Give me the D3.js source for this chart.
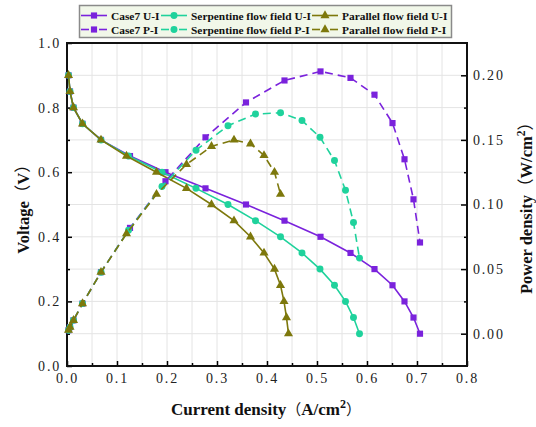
<!DOCTYPE html>
<html><head><meta charset="utf-8">
<script src="https://cdn.jsdelivr.net/npm/d3@7"></script>
<style>
html,body{margin:0;padding:0;background:#fff;}
svg{display:block;}
</style></head>
<body><svg id="chart" width="536" height="427"></svg>
<script>
// Operating points: cell voltage (V) for each polarization sample
const voltage = [0.90, 0.85, 0.80, 0.75, 0.70, 0.65, 0.60, 0.55, 0.50, 0.45, 0.40, 0.35, 0.30, 0.25, 0.20, 0.15, 0.10];

// Current density (A/cm2) at each voltage
const currentCase7 = [0.003, 0.006, 0.013, 0.031, 0.068, 0.126, 0.197, 0.277, 0.358, 0.435, 0.507, 0.567, 0.615, 0.651, 0.675, 0.693, 0.706];
const currentSerpentine = [0.003, 0.006, 0.013, 0.031, 0.068, 0.123, 0.190, 0.258, 0.322, 0.377, 0.427, 0.470, 0.506, 0.535, 0.557, 0.573, 0.585];
const currentParallel = [0.003, 0.006, 0.013, 0.031, 0.068, 0.119, 0.179, 0.239, 0.289, 0.334, 0.367, 0.394, 0.415, 0.427, 0.434, 0.439, 0.443];

// Power density (W/cm2)
const powerCase7 = [0.0027, 0.0051, 0.0104, 0.0233, 0.0476, 0.0819, 0.118, 0.152, 0.179, 0.196, 0.203, 0.198, 0.185, 0.163, 0.135, 0.104, 0.0706];
const powerSerpentine = [0.0027, 0.0051, 0.0104, 0.0233, 0.0476, 0.080, 0.114, 0.142, 0.161, 0.170, 0.171, 0.165, 0.152, 0.134, 0.111, 0.086, 0.0585];
const powerParallel = [0.0027, 0.0051, 0.0104, 0.0233, 0.0476, 0.0774, 0.108, 0.131, 0.145, 0.150, 0.147, 0.138, 0.125, 0.108];

// Axis ticks
const xTicks = [0, 0.1, 0.2, 0.3, 0.4, 0.5, 0.6, 0.7, 0.8];
const vTicks = [0, 0.2, 0.4, 0.6, 0.8, 1.0];
const pTicks = [0, 0.05, 0.10, 0.15, 0.20];

const legendLabels = [
  "Case7 U-I", "Serpentine flow field U-I", "Parallel flow field U-I",
  "Case7 P-I", "Serpentine flow field P-I", "Parallel flow field P-I"
];

const svg = d3.select("#chart");
const serif = "'Liberation Serif', 'Times New Roman', serif";

const x = d3.scaleLinear().domain([0, 0.8]).range([67, 467]);
const yV = d3.scaleLinear().domain([0, 1.0]).range([366, 43]);
const yP = d3.scaleLinear().domain([-0.025, 0.225]).range([366, 43]);

// grid
const grid = svg.append("g").attr("stroke", "#e4e4e4").attr("stroke-width", 1);
grid.selectAll("line.gx").data(d3.range(1, 16).map(i => i * 0.05)).join("line")
  .attr("x1", d => x(d)).attr("x2", d => x(d)).attr("y1", 43).attr("y2", 366);
grid.selectAll("line.gy").data(d3.range(1, 10).map(i => i * 0.1)).join("line")
  .attr("y1", d => yV(d)).attr("y2", d => yV(d)).attr("x1", 67).attr("x2", 467);

// axes
function styleAxis(g) {
  g.select(".domain").remove();
  g.selectAll(".tick line").attr("stroke", "#000").attr("stroke-width", 1.5);
  g.selectAll(".tick text").attr("font-family", serif).attr("font-size", 14)
    .attr("letter-spacing", "1.8px").attr("fill", "#222");
}
const fmt1 = d3.format(".1f"), fmt2 = d3.format(".2f");

svg.append("g").attr("transform", "translate(0,366)")
  .call(d3.axisBottom(x).tickValues(d3.range(0, 17).map(i => i * 0.05).filter((d, i) => i % 2)).tickSize(-3).tickFormat(""))
  .call(styleAxis);
svg.append("g").attr("transform", "translate(0,366)")
  .call(d3.axisBottom(x).tickValues(xTicks).tickSize(-5).tickPadding(7).tickFormat(fmt1))
  .call(styleAxis);

svg.append("g").attr("transform", "translate(67,0)")
  .call(d3.axisLeft(yV).tickValues([0.1, 0.3, 0.5, 0.7, 0.9]).tickSize(-3).tickFormat(""))
  .call(styleAxis);
svg.append("g").attr("transform", "translate(67,0)")
  .call(d3.axisLeft(yV).tickValues(vTicks).tickSize(-5).tickPadding(6).tickFormat(fmt1))
  .call(styleAxis);

svg.append("g").attr("transform", "translate(467,0)")
  .call(d3.axisRight(yP).tickValues([0.025, 0.075, 0.125, 0.175]).tickSize(-3).tickFormat(""))
  .call(styleAxis);
svg.append("g").attr("transform", "translate(467,0)")
  .call(d3.axisRight(yP).tickValues(pTicks).tickSize(-6).tickPadding(6).tickFormat(fmt2))
  .call(styleAxis);

// frame
svg.append("rect").attr("x", 67).attr("y", 43).attr("width", 400).attr("height", 323)
  .attr("fill", "none").attr("stroke", "#111").attr("stroke-width", 2);

// series
const purple = "#7a22dc", teal = "#1fd29c", olive = "#7d780c";
const series = [
  { cur: currentCase7, val: voltage, y: yV, color: purple, sym: d3.symbolSquare, size: 38, dash: null },
  { cur: currentSerpentine, val: voltage, y: yV, color: teal, sym: d3.symbolCircle, size: 38, dash: null },
  { cur: currentParallel, val: voltage, y: yV, color: olive, sym: d3.symbolTriangle, size: 36, dash: null },
  { cur: currentCase7, val: powerCase7, y: yP, color: purple, sym: d3.symbolSquare, size: 38, dash: "8,5" },
  { cur: currentSerpentine, val: powerSerpentine, y: yP, color: teal, sym: d3.symbolCircle, size: 38, dash: "8,5" },
  { cur: currentParallel, val: powerParallel, y: yP, color: olive, sym: d3.symbolTriangle, size: 36, dash: "8,5" }
];

series.forEach(s => {
  const pts = s.val.map((v, i) => [s.cur[i], v]);
  const g = svg.append("g");
  g.append("path").datum(pts)
    .attr("d", d3.line().x(d => x(d[0])).y(d => s.y(d[1])))
    .attr("fill", "none").attr("stroke", s.color).attr("stroke-width", 1.6)
    .attr("stroke-dasharray", s.dash);
  g.selectAll("path.m").data(pts).join("path")
    .attr("transform", d => `translate(${x(d[0])},${s.y(d[1])})`)
    .attr("d", d3.symbol(s.sym, s.size)).attr("fill", s.color);
});

// legend
const lg = svg.append("g");
lg.append("rect").attr("x", 79.5).attr("y", 5.5).attr("width", 372).attr("height", 32)
  .attr("fill", "#f1f7e9").attr("stroke", "#8a8a8a").attr("stroke-width", 1.5);
const colX = [81, 161, 312];
const rowY = [15.5, 29.5];
legendLabels.forEach((label, i) => {
  const s = series[i];
  const cx = colX[i % 3], cy = rowY[Math.floor(i / 3)];
  const item = lg.append("g");
  if (s.dash) {
    item.append("line").attr("x1", cx).attr("x2", cx + 8).attr("y1", cy).attr("y2", cy);
    item.append("line").attr("x1", cx + 18).attr("x2", cx + 26).attr("y1", cy).attr("y2", cy);
  } else {
    item.append("line").attr("x1", cx).attr("x2", cx + 26).attr("y1", cy).attr("y2", cy);
  }
  item.selectAll("line").attr("stroke", s.color).attr("stroke-width", 1.6);
  item.append("path").attr("transform", `translate(${cx + 13},${cy})`)
    .attr("d", d3.symbol(s.sym, s.size)).attr("fill", s.color);
  item.append("text").attr("x", cx + 30).attr("y", cy + 4)
    .attr("font-family", serif).attr("font-weight", "bold").attr("font-size", 11.4)
    .attr("fill", "#111").text(label);
});

// axis titles
const cjk = "'Noto Sans CJK SC', sans-serif";
const xt = svg.append("text").attr("x", 266).attr("y", 415).attr("text-anchor", "middle")
  .attr("font-family", serif).attr("font-weight", "bold").attr("font-size", 17).attr("fill", "#111");
xt.append("tspan").text("Current density");
xt.append("tspan").attr("font-family", cjk).attr("font-weight", "normal").attr("font-size", 15).text("（");
xt.append("tspan").text("A/cm");
xt.append("tspan").attr("font-size", 12).attr("dy", -7).text("2");
xt.append("tspan").attr("font-family", cjk).attr("font-weight", "normal").attr("font-size", 15).attr("dy", 7).text("）");

const yl = svg.append("text").attr("transform", "translate(29,205) rotate(-90)").attr("text-anchor", "middle")
  .attr("font-family", serif).attr("font-weight", "bold").attr("font-size", 16.5).attr("fill", "#111");
yl.append("tspan").text("Voltage");
yl.append("tspan").attr("font-family", cjk).attr("font-weight", "normal").text("（");
yl.append("tspan").text("V");
yl.append("tspan").attr("font-family", cjk).attr("font-weight", "normal").text("）");

const yr = svg.append("text").attr("transform", "translate(532,204) rotate(-90)").attr("text-anchor", "middle")
  .attr("font-family", serif).attr("font-weight", "bold").attr("font-size", 16.5).attr("fill", "#111");
yr.append("tspan").text("Power density");
yr.append("tspan").attr("font-family", cjk).attr("font-weight", "normal").text("（");
yr.append("tspan").text("W/cm");
yr.append("tspan").attr("font-size", 11.5).attr("dy", -7).text("2");
yr.append("tspan").attr("font-family", cjk).attr("font-weight", "normal").attr("dy", 7).text("）");
</script>
</body></html>
